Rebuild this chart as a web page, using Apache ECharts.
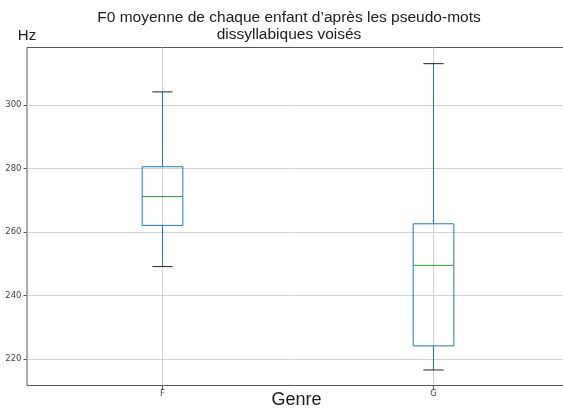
<!DOCTYPE html>
<html>
<head>
<meta charset="utf-8">
<script src="https://cdn.jsdelivr.net/npm/echarts@6/dist/echarts.min.js"></script>
<style>
  html, body { margin: 0; padding: 0; background: #fff; }
  #chart { width: 563px; height: 410px; }
</style>
</head>
<body>
<div id="chart"></div>
<script>
// Mean F0 per child, grouped by gender (box statistics in Hz)
const categories = ['F', 'G'];
const lowerWhisker = [249.1, 216.5];
const q1 = [262.1, 224.1];
const median = [271.2, 249.5];
const q3 = [280.6, 262.6];
const upperWhisker = [304.2, 313.1];
const yTicks = [220, 240, 260, 280, 300];

const boxColor = '#1f77b4';
const medianColor = '#2ca02c';
const capColor = '#222222';

// one row per category: [position, low, q1, median, q3, high]
const rows = categories.map((c, i) => [i + 1, lowerWhisker[i], q1[i], median[i], q3[i], upperWhisker[i]]);

function renderBox(params, api) {
  const x = api.value(0);
  const unit = api.size([1, 0])[0];
  const half = unit * 0.15 / 2;
  const capHalf = half / 2;
  const pLow = api.coord([x, api.value(1)]);
  const pQ1 = api.coord([x, api.value(2)]);
  const pMed = api.coord([x, api.value(3)]);
  const pQ3 = api.coord([x, api.value(4)]);
  const pHigh = api.coord([x, api.value(5)]);
  const cx = pMed[0];
  const line = (x1, y1, x2, y2, color) => ({
    type: 'line',
    shape: { x1, y1, x2, y2 },
    style: { stroke: color, lineWidth: 1 }
  });
  return {
    type: 'group',
    children: [
      line(cx, pQ1[1], cx, pLow[1], boxColor),
      line(cx, pQ3[1], cx, pHigh[1], boxColor),
      line(cx - capHalf, pLow[1], cx + capHalf, pLow[1], capColor),
      line(cx - capHalf, pHigh[1], cx + capHalf, pHigh[1], capColor),
      {
        type: 'rect',
        shape: { x: cx - half, y: pQ3[1], width: half * 2, height: pQ1[1] - pQ3[1] },
        style: { fill: 'none', stroke: boxColor, lineWidth: 1 }
      },
      line(cx - half, pMed[1], cx + half, pMed[1], medianColor)
    ]
  };
}

const chart = echarts.init(document.getElementById('chart'), null, { renderer: 'canvas' });
chart.setOption({
  animation: false,
  backgroundColor: '#ffffff',
  title: {
    text: 'F0 moyenne de chaque enfant d\u2019après les pseudo-mots\ndissyllabiques voisés',
    left: 284,
    top: 4,
    textAlign: 'center',
    textStyle: {
      fontFamily: 'Liberation Sans',
      fontSize: 15.5,
      fontWeight: 'normal',
      color: '#1a1a1a',
      lineHeight: 17
    }
  },
  // x-axis title
  graphic: [{
    type: 'text',
    x: 296.5,
    y: 400.5,
    style: {
      text: 'Genre',
      fontFamily: 'Liberation Sans',
      fontSize: 18,
      fill: '#1a1a1a',
      align: 'center',
      verticalAlign: 'middle'
    }
  }],
  grid: {
    left: 27,
    top: 47.5,
    right: -6,
    bottom: 24.5,
    outerBoundsMode: 'none',
    show: true,
    borderColor: '#555555',
    borderWidth: 1,
    backgroundColor: 'transparent'
  },
  xAxis: {
    type: 'value',
    min: 0.5,
    max: 2.5,
    axisLine: { show: false },
    axisTick: {
      show: true,
      length: 3.5,
      lineStyle: { color: '#555555' },
      customValues: categories.map((c, i) => i + 1)
    },
    axisLabel: {
      margin: 4,
      fontFamily: 'DejaVu Sans',
      fontSize: 8.5,
      color: '#444444',
      customValues: categories.map((c, i) => i + 1),
      formatter: v => categories[Math.round(v) - 1] || ''
    },
    splitLine: { show: true, lineStyle: { color: '#d0d0d0', width: 1 } }
  },
  yAxis: {
    type: 'value',
    min: 211.6,
    max: 318.2,
    name: 'Hz',
    nameLocation: 'end',
    nameGap: 4,
    nameTextStyle: {
      fontFamily: 'Liberation Sans',
      fontSize: 15,
      color: '#1a1a1a',
      align: 'center',
      verticalAlign: 'bottom'
    },
    axisLine: { show: false },
    axisTick: {
      show: true,
      length: 3.5,
      lineStyle: { color: '#555555' },
      customValues: yTicks
    },
    axisLabel: {
      margin: 5.5,
      fontFamily: 'DejaVu Sans',
      fontSize: 8.5,
      color: '#444444',
      customValues: yTicks
    },
    splitLine: { show: true, lineStyle: { color: '#d0d0d0', width: 1 } }
  },
  series: [{
    type: 'custom',
    renderItem: renderBox,
    data: rows,
    encode: { x: 0, y: [1, 2, 3, 4, 5] },
    z: 3
  }]
});
</script>
</body>
</html>
